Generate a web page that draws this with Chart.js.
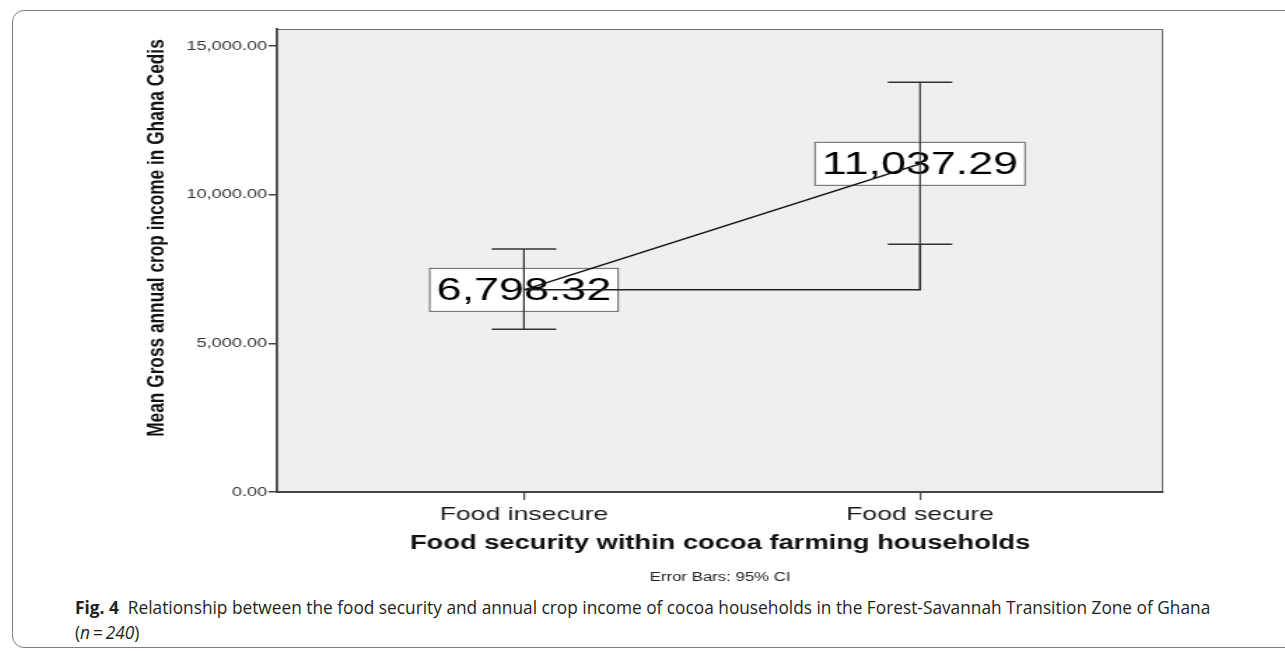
<!DOCTYPE html>
<html>
<head>
<meta charset="utf-8">
<script src="https://cdn.jsdelivr.net/npm/chart.js@4"></script>
<style>
  html, body { margin: 0; padding: 0; background: #fff; }
  body { width: 1285px; height: 651px; position: relative; overflow: hidden; }
  #frame {
    position: absolute; left: 12px; top: 10px; width: 1300px; height: 638px;
    border: 1.5px solid #808080; border-radius: 12px; box-sizing: border-box;
  }
  /* the SPSS export is stretched sideways, so the canvas is too */
  #income {
    position: absolute; left: 130px; top: 20px;
    width: 750px; height: 570px;
    transform: scaleX(1.4); transform-origin: 0 0;
  }
  .cap {
    position: absolute; left: 75px; font-family: "Open Sans", "Noto Sans", sans-serif;
    font-size: 17.3px; color: #231f20; white-space: nowrap;
  }
</style>
</head>
<body>
<div id="frame"></div>
<canvas id="income" width="750" height="570"></canvas>
<div class="cap" style="top:596px"><b>Fig. 4</b>&nbsp; Relationship between the food security and annual crop income of cocoa households in the Forest-Savannah Transition Zone of Ghana</div>
<div class="cap" style="top:621px">(<i>n</i>&#8201;=&#8201;<i>240</i>)</div>
<script>
const kategori = ["Food insecure", "Food secure"];
const rataRata = [6798.32, 11037.29];
const ciBawah = [5470, 8330];
const ciAtas = [8170, 13780];
const tickY = [0, 5000, 10000, 15000];

const fmt = (v) => v.toLocaleString("en-US", { minimumFractionDigits: 2, maximumFractionDigits: 2 });

// grey plot background plus the top/right frame
const latar = {
  id: "latar",
  beforeDraw(chart) {
    const { ctx, chartArea: a } = chart;
    ctx.save();
    ctx.fillStyle = "#efefef";
    ctx.fillRect(a.left, a.top, a.right - a.left, a.bottom - a.top);
    ctx.strokeStyle = "#6e6e6e";
    ctx.lineWidth = 1;
    ctx.beginPath();
    ctx.moveTo(a.left, a.top + 0.5);
    ctx.lineTo(a.right - 0.5, a.top + 0.5);
    ctx.lineTo(a.right - 0.5, a.bottom);
    ctx.stroke();
    ctx.restore();
  },
};

// value boxes sit under the lines
const kotakNilai = {
  id: "kotakNilai",
  beforeDatasetsDraw(chart) {
    const { ctx, scales: { x, y } } = chart;
    ctx.save();
    ctx.font = "32px 'Liberation Sans', Arial, sans-serif";
    ctx.textAlign = "center";
    ctx.textBaseline = "middle";
    rataRata.forEach((v, i) => {
      const px = x.getPixelForValue(i);
      const py = y.getPixelForValue(v);
      const teks = fmt(v);
      const w = ctx.measureText(teks).width + 10;
      const h = 43;
      ctx.fillStyle = "#fff";
      ctx.fillRect(px - w / 2, py - h / 2, w, h);
      ctx.strokeStyle = "#666";
      ctx.lineWidth = 1;
      ctx.strokeRect(px - w / 2, py - h / 2, w, h);
      ctx.fillStyle = "#000";
      ctx.fillText(teks, px, py + 1);
    });
    ctx.restore();
  },
};

// 95% CI whiskers
const errorBar = {
  id: "errorBar",
  afterDatasetsDraw(chart) {
    const { ctx, scales: { x, y } } = chart;
    ctx.save();
    ctx.strokeStyle = "#333";
    rataRata.forEach((v, i) => {
      const px = x.getPixelForValue(i);
      const yAtas = y.getPixelForValue(ciAtas[i]);
      const yBawah = y.getPixelForValue(ciBawah[i]);
      ctx.lineWidth = 1.2;
      ctx.beginPath();
      ctx.moveTo(px, yAtas);
      ctx.lineTo(px, yBawah);
      ctx.stroke();
      ctx.lineWidth = 1.5;
      ctx.beginPath();
      ctx.moveTo(px - 23, yAtas);
      ctx.lineTo(px + 23, yAtas);
      ctx.moveTo(px - 23, yBawah);
      ctx.lineTo(px + 23, yBawah);
      ctx.stroke();
    });
    ctx.restore();
  },
};

// rotated y title and the footnote under the axis
const teksTambahan = {
  id: "teksTambahan",
  afterDraw(chart) {
    const { ctx, chartArea: a } = chart;
    ctx.save();
    ctx.fillStyle = "#111";
    ctx.translate(19.5, 218);
    ctx.rotate(-Math.PI / 2);
    ctx.font = "bold 17.3px 'Liberation Sans', Arial, sans-serif";
    ctx.textAlign = "center";
    ctx.textBaseline = "middle";
    ctx.fillText("Mean Gross annual crop income in Ghana Cedis", 0, 0);
    ctx.restore();
    ctx.save();
    ctx.fillStyle = "#222";
    ctx.font = "12px 'Liberation Sans', Arial, sans-serif";
    ctx.textAlign = "center";
    ctx.textBaseline = "middle";
    ctx.fillText("Error Bars: 95% CI", (a.left + a.right) / 2, 558);
    ctx.restore();
  },
};

const ctxIncome = document.getElementById("income");
const incomeChart = new Chart(ctxIncome, {
  type: "line",
  data: {
    datasets: [
      {
        label: "Mean",
        data: rataRata.map((v, i) => ({ x: i, y: v })),
        borderColor: "#111",
        borderWidth: 1.5,
        pointRadius: 0,
        fill: false,
      },
      {
        label: "Connector",
        data: [
          { x: 0, y: rataRata[0] },
          { x: 1, y: rataRata[0] },
          { x: 1, y: ciBawah[1] },
        ],
        borderColor: "#222",
        borderWidth: 1.5,
        pointRadius: 0,
        fill: false,
      },
    ],
  },
  options: {
    responsive: false,
    animation: false,
    layout: { padding: { left: 0, top: 9, right: 12, bottom: 0 } },
    plugins: {
      legend: { display: false },
      tooltip: { enabled: false },
    },
    scales: {
      x: {
        type: "linear",
        min: -0.6235,
        max: 1.614,
        afterFit(scale) {
          scale.height = 98;
        },
        afterBuildTicks(scale) {
          scale.ticks = kategori.map((k, i) => ({ value: i }));
        },
        ticks: {
          callback: (v) => kategori[v],
          color: "#1a1a1a",
          padding: 3,
          maxRotation: 0,
          font: { family: "'Liberation Sans', Arial, sans-serif", size: 19 },
        },
        grid: {
          display: true,
          drawOnChartArea: false,
          tickLength: 8,
          color: "#444",
          lineWidth: 1.2,
        },
        border: { display: true, color: "#444", width: 2 },
        title: {
          display: true,
          text: "Food security within cocoa farming households",
          color: "#111",
          padding: { top: 0, bottom: 35 },
          font: { family: "'Liberation Sans', Arial, sans-serif", size: 19.5, weight: "bold" },
        },
      },
      y: {
        min: 0,
        max: 15572,
        afterFit(scale) {
          scale.width = 105;
        },
        afterBuildTicks(scale) {
          scale.ticks = tickY.map((v) => ({ value: v }));
        },
        ticks: {
          callback: (v) => fmt(v),
          color: "#333",
          padding: 1,
          font: { family: "'Liberation Sans', Arial, sans-serif", size: 13 },
        },
        grid: {
          display: true,
          drawOnChartArea: false,
          tickLength: 6,
          color: "#444",
          lineWidth: 1.5,
        },
        border: { display: true, color: "#444", width: 1.8 },
      },
    },
  },
  plugins: [latar, kotakNilai, errorBar, teksTambahan],
});
</script>
</body>
</html>
